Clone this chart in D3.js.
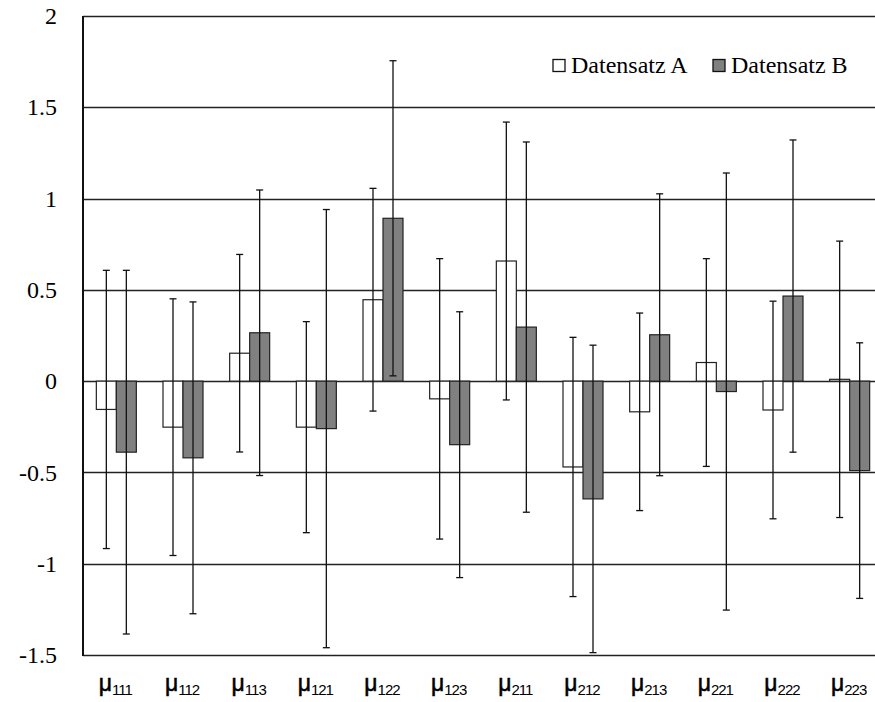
<!DOCTYPE html>
<html>
<head>
<meta charset="utf-8">
<script src="https://cdn.jsdelivr.net/npm/d3@7"></script>
<style>
  body { margin: 0; background: #fff; }
  svg { display: block; }
</style>
</head>
<body>
<svg></svg>
<script>
document.addEventListener("DOMContentLoaded", function() {
  const width = 875;
  const height = 702;

  // data
  const categories = ["111", "112", "113", "121", "122", "123", "211", "212", "213", "221", "222", "223"];
  const seriesNames = ["Datensatz A", "Datensatz B"];
  const valuesA = [-0.155, -0.252, 0.153, -0.252, 0.446, -0.097, 0.658, -0.470, -0.168, 0.102, -0.158, 0.010];
  const valuesB = [-0.389, -0.420, 0.265, -0.260, 0.892, -0.348, 0.296, -0.645, 0.254, -0.057, 0.466, -0.490];
  const errorsA = [0.762, 0.703, 0.541, 0.578, 0.610, 0.768, 0.761, 0.710, 0.541, 0.569, 0.596, 0.757];
  const errorsB = [0.996, 0.854, 0.782, 1.200, 0.863, 0.728, 1.014, 0.842, 0.772, 1.197, 0.855, 0.700];
  const yTicks = [-1.5, -1, -0.5, 0, 0.5, 1, 1.5, 2];

  const margin = {left: 83, top: 16, right: 0, bottom: 47};
  const plotWidth = 800; // plot runs past the right edge of the picture
  const plotHeight = height - margin.top - margin.bottom;

  let svg = d3.select("svg")
              .attr("width", width)
              .attr("height", height);

  let x = d3.scaleBand()
            .domain(categories)
            .range([margin.left, margin.left + plotWidth]);

  let xSub = d3.scaleBand()
               .domain(["A", "B"])
               .range([x.bandwidth() * 0.2, x.bandwidth() * 0.8]);

  let y = d3.scaleLinear()
            .domain([-1.5, 2])
            .range([margin.top + plotHeight, margin.top]);

  //gridlines
  svg.append("g")
      .attr("class", "grid")
    .selectAll("line")
    .data(yTicks)
    .enter()
    .append("line")
      .attr("x1", margin.left)
      .attr("x2", margin.left + plotWidth)
      .attr("y1", d => Math.round(y(d)) + 0.5)
      .attr("y2", d => Math.round(y(d)) + 0.5)
      .attr("stroke", "#222")
      .attr("stroke-width", 1.3);

  //y axis labels
  let yAxis = d3.axisLeft(y)
                .tickValues(yTicks)
                .tickFormat(d => d)
                .tickSize(0)
                .tickPadding(26);

  svg.append("g")
      .attr("transform", `translate(${margin.left}, 0)`)
    .call(yAxis)
    .call(g => g.select(".domain").remove())
    .selectAll("text")
      .style("font-family", "'Liberation Serif', 'Times New Roman', serif")
      .style("font-size", "24px")
      .attr("fill", "#000");

  svg.append("line")
      .attr("x1", margin.left)
      .attr("x2", margin.left)
      .attr("y1", y(2))
      .attr("y2", y(-1.5) + 1)
      .attr("stroke", "#111")
      .attr("stroke-width", 2);

  //rows for bars and error bars
  let rows = [];
  categories.forEach((c, i) => {
    rows.push({cat: c, key: "A", value: valuesA[i], err: errorsA[i]});
    rows.push({cat: c, key: "B", value: valuesB[i], err: errorsB[i]});
  });

  const fills = {A: "#ffffff", B: "#808080"};

  svg.append("g")
      .attr("class", "bars")
    .selectAll("rect")
    .data(rows)
    .enter()
    .append("rect")
      .attr("x", d => x(d.cat) + xSub(d.key))
      .attr("y", d => y(Math.max(0, d.value)))
      .attr("width", xSub.bandwidth())
      .attr("height", d => Math.abs(y(d.value) - y(0)))
      .attr("fill", d => fills[d.key])
      .attr("stroke", "#222")
      .attr("stroke-width", 1.2);

  //error bars
  let errors = svg.append("g")
                    .attr("class", "errors")
                  .selectAll("g")
                  .data(rows)
                  .enter()
                  .append("g")
                    .attr("transform", d => `translate(${x(d.cat) + xSub(d.key) + xSub.bandwidth() / 2}, 0)`)
                    .attr("stroke", "#111")
                    .attr("stroke-width", 1.3);

  errors.append("line")
      .attr("y1", d => y(d.value + d.err))
      .attr("y2", d => y(d.value - d.err));

  errors.selectAll(".cap")
    .data(d => [d.value + d.err, d.value - d.err])
    .enter()
    .append("line")
      .attr("class", "cap")
      .attr("x1", -3.5)
      .attr("x2", 3.5)
      .attr("y1", d => y(d))
      .attr("y2", d => y(d));

  //x labels with subscripts
  let labels = svg.append("g")
                    .attr("class", "x-labels")
                  .selectAll("text")
                  .data(categories)
                  .enter()
                  .append("text")
                    .attr("x", d => x(d) + x.bandwidth() / 2 - 1)
                    .attr("y", 691)
                    .attr("text-anchor", "middle")
                    .style("font-family", "'Liberation Sans', Arial, sans-serif")
                    .attr("fill", "#000");

  labels.append("tspan")
      .style("font-size", "23px")
      .attr("stroke", "#000")
      .attr("stroke-width", 0.5)
      .text("μ");

  labels.append("tspan")
      .attr("dy", 4)
      .style("font-size", "15px")
      .style("letter-spacing", "-1px")
      .text(d => d);

  //legend
  let legend = svg.append("g")
                    .attr("id", "legend");

  const legendX = [553, 713];

  legend.selectAll("rect")
    .data(seriesNames)
    .enter()
    .append("rect")
      .attr("x", (d, i) => legendX[i])
      .attr("y", 59.5)
      .attr("width", 12)
      .attr("height", 12)
      .attr("fill", (d, i) => i === 0 ? fills.A : fills.B)
      .attr("stroke", "#111")
      .attr("stroke-width", 1.3);

  legend.selectAll("text")
    .data(seriesNames)
    .enter()
    .append("text")
      .attr("x", (d, i) => legendX[i] + 18)
      .attr("y", 73)
      .style("font-family", "'Liberation Serif', 'Times New Roman', serif")
      .style("font-size", "24px")
      .attr("fill", "#000")
      .text(d => d);
});
</script>
</body>
</html>
